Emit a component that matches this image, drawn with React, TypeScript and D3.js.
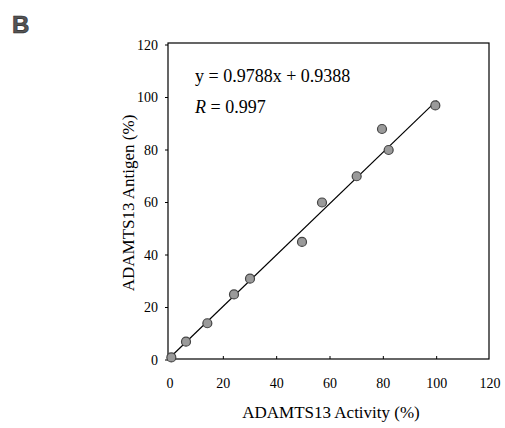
import React from 'react';
import {scaleLinear, line} from 'd3';

// measured values (ADAMTS13 activity vs antigen, %)
const activity = [0.5, 6, 14, 24, 30, 49.5, 57, 70, 79.5, 82, 99.5];
const antigen = [1, 7, 14, 25, 31, 45, 60, 70, 88, 80, 97];
const xTicks = [0, 20, 40, 60, 80, 100, 120];
const yTicks = [0, 20, 40, 60, 80, 100, 120];
const slope = 0.9788;
const intercept = 0.9388;
const fitRange = [0, 100];

const W = 505, H = 428;
const font = '"Liberation Serif", "Times New Roman", serif';

export default function App(){
  const x = scaleLinear().domain([0, 120]).range([170, 490]);
  const y = scaleLinear().domain([0, 120]).range([360, 45]);
  const box = {l: 168, r: 489, t: 43, b: 359};

  const fit = line<number>()
    .x(d => x(d))
    .y(d => y(slope * d + intercept));

  return (
    <svg width={W} height={H} style={{position: 'absolute', left: 0, top: 0, background: '#fff'}}>
      <text x={12} y={33} fontFamily='"Liberation Sans", Arial, sans-serif' fontWeight="bold"
        fontSize={24} fill="#555" stroke="#222" strokeWidth={0.6}>B</text>

      <rect x={box.l} y={box.t} width={box.r - box.l} height={box.b - box.t}
        fill="none" stroke="#000" strokeWidth={1.2} />

      {yTicks.map(t => (
        <g key={'y' + t}>
          <line x1={box.l - 3} x2={box.l} y1={y(t)} y2={y(t)} stroke="#000" />
          <text x={158} y={y(t) + 4.5} textAnchor="end" fontFamily={font} fontSize={14}>{t}</text>
        </g>
      ))}
      {xTicks.map(t => (
        <g key={'x' + t}>
          {t > 0 && t < 120 && <line x1={x(t)} x2={x(t)} y1={box.b} y2={box.b - 3} stroke="#000" />}
          <text x={x(t)} y={388} textAnchor="middle" fontFamily={font} fontSize={14}>{t}</text>
        </g>
      ))}

      <path d={fit(fitRange) || ''} fill="none" stroke="#000" strokeWidth={1.2} />

      {activity.map((a, i) => (
        <circle key={i} cx={x(a)} cy={y(antigen[i])} r={4.5}
          fill="#9a9a9a" stroke="#444" strokeWidth={1.2} />
      ))}

      <text x={195} y={82} fontFamily={font} fontSize={18}>y = 0.9788x + 0.9388</text>
      <text x={195} y={113} fontFamily={font} fontSize={18}>
        <tspan fontStyle="italic">R</tspan> = 0.997
      </text>

      <text transform={`translate(134, ${(box.t + box.b) / 2 + 2}) rotate(-90)`}
        textAnchor="middle" fontFamily={font} fontSize={17}>ADAMTS13 Antigen (%)</text>
      <text x={331} y={418} textAnchor="middle" fontFamily={font} fontSize={17}>ADAMTS13 Activity (%)</text>
    </svg>
  );
}
